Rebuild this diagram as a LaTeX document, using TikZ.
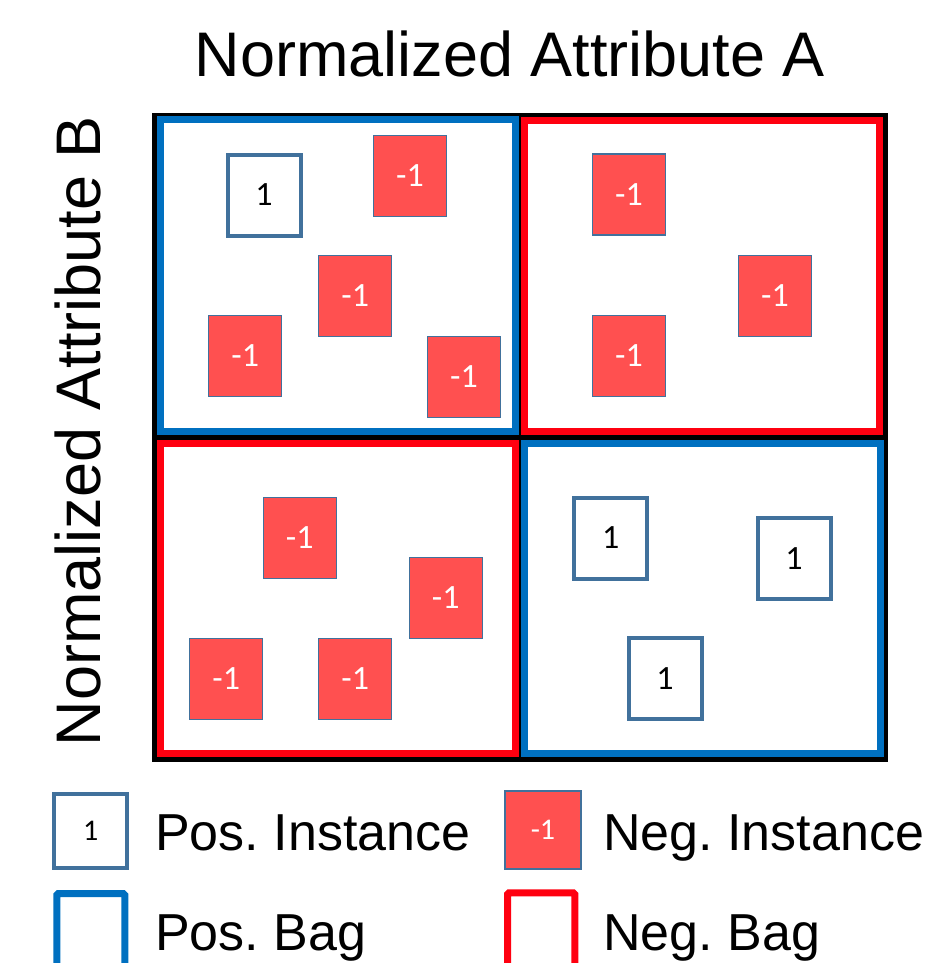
\documentclass[tikz,border=0pt]{standalone}
\usepackage{fontspec}
\setmainfont{Liberation Sans}
\newfontfamily\boxfont{Carlito}
\frenchspacing
\definecolor{bagblue}{HTML}{0070C0}
\definecolor{bagred}{HTML}{FF0010}
\definecolor{instedge}{HTML}{41719C}
\definecolor{instfill}{HTML}{FF5050}
\begin{document}
\begin{tikzpicture}[x=1pt,y=-1pt,
  posbag/.style={draw=bagblue,line width=7pt,fill=white},
  negbag/.style={draw=bagred,line width=7pt,fill=white},
  posinst/.style={draw=instedge,line width=4pt,fill=white,inner sep=0pt,
    minimum width=73pt,minimum height=81pt,
    font=\boxfont\fontsize{34}{34}\selectfont,text=black},
  neginst/.style={draw=instedge,line width=1.2pt,fill=instfill,inner sep=0pt,
    minimum width=73pt,minimum height=81pt,
    font=\boxfont\fontsize{34}{34}\selectfont,text=white},
  axislabel/.style={font=\fontsize{63}{63}\selectfont,anchor=base,inner sep=0pt},
  legendtext/.style={font=\fontsize{52}{52}\selectfont,anchor=base west,inner sep=0pt}]
\useasboundingbox (0,0) rectangle (930,963);

% axis titles
\node[axislabel] (titleA) at (510,77) {Normalized Attribute A};
\node[axislabel,rotate=90] (titleB) at (100,431) {Normalized Attribute B};

% black frame behind the four bags
\fill[black] (152,113) rectangle (888,762);

% bags
\draw[posbag] (160.2,120) rectangle (515.5,431);
\draw[negbag] (524,121) rectangle (879.5,431.5);
\draw[negbag] (160.2,443) rectangle (515,753.5);
\draw[posbag] (524,443) rectangle (880,753.5);

% instances, upper left bag
\node[posinst] (p1) at (264,195) {1};
\node[neginst] (n1) at (410,176) {-1};
\node[neginst] (n2) at (355.3,296) {-1};
\node[neginst] (n3) at (245.3,356) {-1};
\node[neginst] (n4) at (464,376.7) {-1};

% instances, upper right bag
\node[neginst] (n5) at (629,194.5) {-1};
\node[neginst] (n6) at (775,296) {-1};
\node[neginst] (n7) at (629,356) {-1};

% instances, lower left bag
\node[neginst] (n8) at (299.7,538) {-1};
\node[neginst] (n9) at (445.7,598) {-1};
\node[neginst] (n10) at (226.3,679) {-1};
\node[neginst] (n11) at (355.3,679) {-1};

% instances, lower right bag
\node[posinst] (p2) at (610.7,538) {1};
\node[posinst] (p3) at (794,558.8) {1};
\node[posinst] (p4) at (665,678.8) {1};

% legend
\node[posinst,minimum width=73pt,minimum height=74pt,
  font=\boxfont\fontsize{30}{30}\selectfont] (lp) at (90.8,831.3) {1};
\node[legendtext] (lpt) at (155,850) {Pos. Instance};
\node[neginst,minimum width=76pt,minimum height=78pt,
  font=\boxfont\fontsize{30}{30}\selectfont] (ln) at (543,830) {-1};
\node[legendtext] (lnt) at (603,850) {Neg. Instance};
\draw[draw=bagblue,line width=7pt,rounded corners=1.5pt] (56.8,893.5) rectangle (124.8,975);
\node[legendtext] (lpb) at (155,950) {Pos. Bag};
\draw[draw=bagred,line width=7pt,rounded corners=1.5pt] (507.5,892.8) rectangle (574.8,975);
\node[legendtext] (lnb) at (603,950) {Neg. Bag};
\end{tikzpicture}
\end{document}
